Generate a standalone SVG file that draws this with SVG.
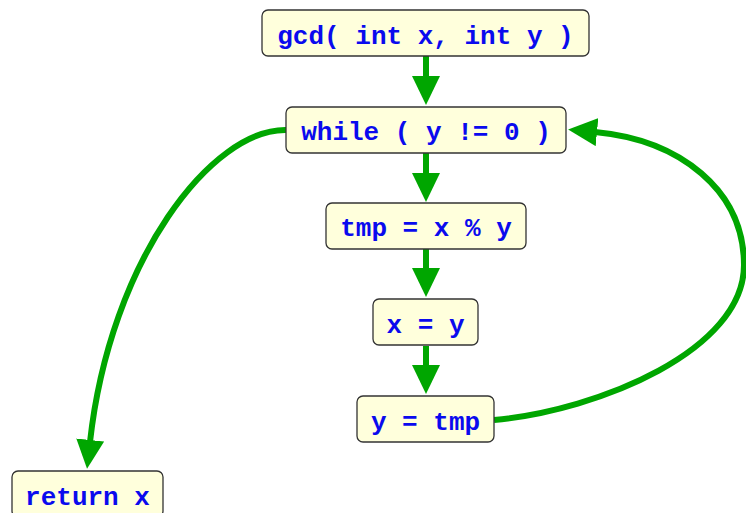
<svg xmlns="http://www.w3.org/2000/svg" width="746" height="513" viewBox="0 0 746 513">
  <defs>
    <style>
      .box { fill: #ffffdc; stroke: #333333; stroke-width: 1.3; }
      .lbl { font-family: "Liberation Mono", "Courier New", monospace; font-weight: bold; font-size: 26px; fill: #0a0aee; text-anchor: middle; }
      .edge { fill: none; stroke: #00a600; stroke-width: 6; }
    </style>
    <marker id="head" markerUnits="userSpaceOnUse" markerWidth="30" markerHeight="30" viewBox="0 0 30 30" refX="2" refY="14" orient="auto">
      <path d="M0,0 L29,14 L0,28 z" fill="#00a600"/>
    </marker>
  </defs>

  <rect width="746" height="513" fill="#ffffff"/>

  <!-- control-flow edges -->
  <g id="edges">
    <path class="edge" marker-end="url(#head)" d="M426 56 L426 78"/>
    <path class="edge" marker-end="url(#head)" d="M426 153 L426 175"/>
    <path class="edge" marker-end="url(#head)" d="M426 249 L426 270"/>
    <path class="edge" marker-end="url(#head)" d="M426 346 L426 367"/>
    <path class="edge" marker-end="url(#head)" d="M287 130 C212 128, 110 260, 90 442"/>
    <path class="edge" marker-end="url(#head)" d="M494 420 C600 410, 744 350, 744 265 C744 190, 680 140, 595 132"/>
  </g>

  <g id="n-gcd">
    <rect class="box" x="262" y="10" width="327" height="46" rx="6"/>
    <text class="lbl" x="425.5" y="44">gcd( int x, int y )</text>
  </g>
  <g id="n-while">
    <rect class="box" x="286" y="107" width="280" height="46" rx="6"/>
    <text class="lbl" x="426" y="139.5">while ( y != 0 )</text>
  </g>
  <g id="n-tmp">
    <rect class="box" x="326" y="203" width="200" height="46" rx="6"/>
    <text class="lbl" x="426" y="236">tmp = x % y</text>
  </g>
  <g id="n-xy">
    <rect class="box" x="373" y="299" width="105" height="46" rx="6"/>
    <text class="lbl" x="425.5" y="332.5">x = y</text>
  </g>
  <g id="n-ytmp">
    <rect class="box" x="357" y="396" width="137" height="46" rx="6"/>
    <text class="lbl" x="425.5" y="429.5">y = tmp</text>
  </g>
  <g id="n-return">
    <rect class="box" x="12" y="471" width="151" height="46" rx="6"/>
    <text class="lbl" x="87.5" y="504.5">return x</text>
  </g>
</svg>
